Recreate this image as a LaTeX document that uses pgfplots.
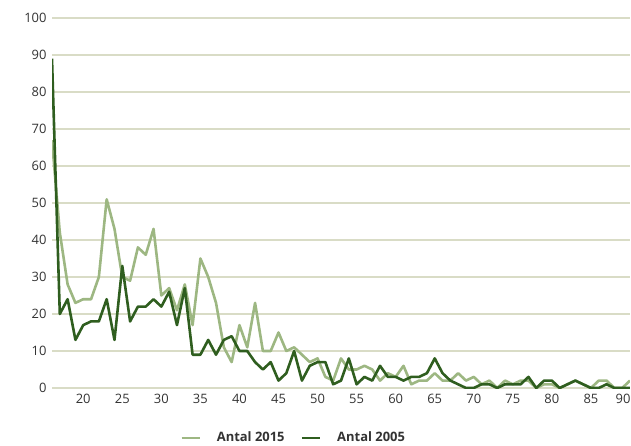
\documentclass[border=0pt]{standalone}
\usepackage{fontspec}
\setmainfont{Open Sans}
\usepackage{pgfplots}
\usepackage{pgfplotstable}
\pgfplotsset{compat=1.18}
\definecolor{gridc}{RGB}{217,220,198}
\definecolor{light}{RGB}{157,183,130}
\definecolor{dark}{RGB}{47,94,31}
\pgfplotstableread{
age a15 a05
16 67 89
17 42 20
18 28 24
19 23 13
20 24 17
21 24 18
22 30 18
23 51 24
24 43 13
25 30 33
26 29 18
27 38 22
28 36 22
29 43 24
30 25 22
31 27 26
32 21 17
33 28 27
34 17 9
35 35 9
36 30 13
37 23 9
38 11 13
39 7 14
40 17 10
41 11 10
42 23 7
43 10 5
44 10 7
45 15 2
46 10 4
47 11 10
48 9 2
49 7 6
50 8 7
51 3 7
52 2 1
53 8 2
54 5 8
55 5 1
56 6 3
57 5 2
58 2 6
59 4 3
60 3 3
61 6 2
62 1 3
63 2 3
64 2 4
65 4 8
66 2 4
67 2 2
68 4 1
69 2 0
70 3 0
71 1 1
72 2 1
73 0 0
74 2 1
75 1 1
76 2 1
77 2 3
78 0 0
79 1 2
80 1 2
81 0 0
82 1 1
83 2 2
84 1 1
85 0 0
86 2 0
87 2 1
88 0 0
89 0 0
90 2 0
}\data
\begin{document}
\fontsize{13}{15}\selectfont
\begin{tikzpicture}
\path[use as bounding box] (-52bp,-58bp) rectangle (579bp,388bp);
\begin{axis}[
  at={(0,0)}, anchor=south west,
  scale only axis,
  width=578bp, height=370bp,
  xmin=16, xmax=90, ymin=0, ymax=100,
  xtick={20,25,...,85},
  extra x ticks={90},
  extra x tick style={xticklabel style={xshift=-7bp}, grid=none},
  ytick={0,10,...,100},
  ymajorgrids,
  grid style={gridc, line width=1.2bp},
  axis line style={draw=none},
  major tick length=0pt,
  tick label style={font=\fontsize{13}{15}\selectfont, color=black!80},
  /pgf/number format/assume math mode=true,
  xticklabel style={yshift=-2bp},
  yticklabel style={xshift=-1bp},
  legend style={draw=none, at={(0.418,0)}, anchor=center, yshift=-50bp,
    font=\fontsize{13}{15}\selectfont\bfseries, column sep=14bp, text=black!80},
  legend columns=2,
  legend image code/.code={\draw[#1] (0bp,0bp) -- (18bp,0bp);},
]
\addplot[light, line width=2.6bp, line join=round] table[x=age, y=a15] {\data};
\addlegendentry{Antal 2015}
\addplot[dark, line width=2.6bp, line join=round] table[x=age, y=a05] {\data};
\addlegendentry{Antal 2005}
\end{axis}
\end{tikzpicture}
\end{document}
